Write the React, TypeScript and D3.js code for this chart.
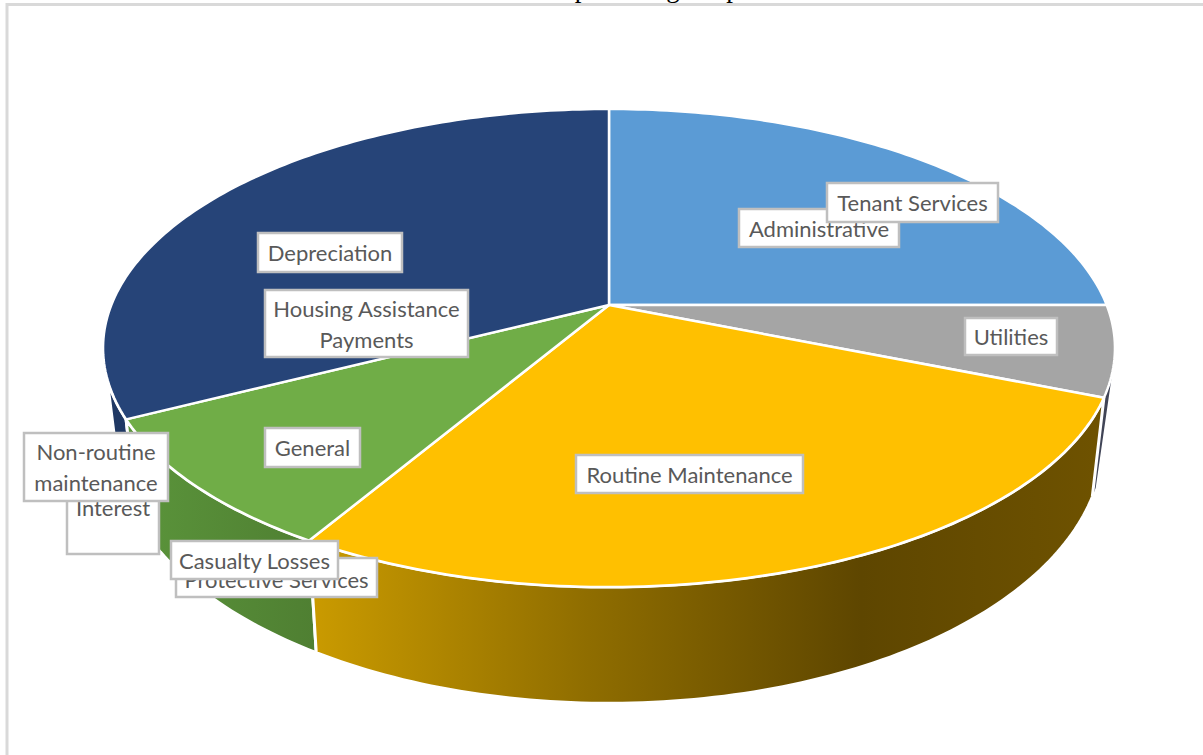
import React from "react";
import * as d3 from "d3";

// Share of operating expense per category, in percent, in pie order.
const categories = [
  "Administrative",
  "Tenant Services",
  "Utilities",
  "Routine Maintenance",
  "Protective Services",
  "General",
  "Casualty Losses",
  "Interest",
  "Non-routine maintenance",
  "Housing Assistance Payments",
  "Depreciation",
];
const shares = [25, 0, 6.1, 27.4, 0, 9, 0, 0, 0, 0, 32.5];
const sliceColors = [
  "#5B9BD5", "#ED7D31", "#A5A5A5", "#FFC000", "#4472C4", "#70AD47",
  "#264478", "#9E480E", "#636363", "#997300", "#264478",
];
const wallColors: Record<string, string> = {
  Utilities: "#404456",
  "Routine Maintenance": "url(#wallGold)",
  General: "url(#wallGreen)",
  Depreciation: "#1F3864",
};
// Clockwise angle, in degrees, where each wall's visible part starts at the far end.
const wallFarLimit: Record<string, number> = { Utilities: 106, Depreciation: 260 };

const titleText = "Total percentage in pie";

// Label boxes, painted in list order so later boxes overlap earlier ones.
const labelBoxes = [
  { lines: ["Depreciation"], x: 258, y: 233, w: 144, h: 39 },
  { lines: ["Housing Assistance", "Payments"], x: 265, y: 290, w: 203, h: 67 },
  { lines: ["Administrative"], x: 739, y: 209, w: 160, h: 38 },
  { lines: ["Tenant Services"], x: 827, y: 183, w: 171, h: 39 },
  { lines: ["Utilities"], x: 965, y: 318, w: 92, h: 37 },
  { lines: ["Routine Maintenance"], x: 576, y: 455, w: 227, h: 38 },
  { lines: ["General"], x: 265, y: 428, w: 95, h: 39 },
  { lines: ["Interest"], x: 67, y: 487, w: 92, h: 67, textY: 507 },
  { lines: ["Non-routine", "maintenance"], x: 24, y: 433, w: 144, h: 68 },
  { lines: ["Protective Services"], x: 176, y: 558, w: 201, h: 39, textY: 579 },
  { lines: ["Casualty Losses"], x: 171, y: 541, w: 167, h: 38 },
];

const WIDTH = 1203;
const HEIGHT = 755;
const LABEL_FONT = "Lato, 'Noto Sans', sans-serif";

// Perspective projection of the unit disc: a point further forward is drawn larger.
const PERSPECTIVE = -0.18;
const project = (cx: number, cy: number, ax: number, ay: number) => (deg: number): [number, number] => {
  const a = (deg * Math.PI) / 180;
  const ux = Math.sin(a);
  const uy = -Math.cos(a);
  const w = 1 + PERSPECTIVE * uy;
  return [cx + (ax * ux) / w, cy + (ay * uy) / w];
};
const topRim = project(609, 305, 497.7, 231.3);
const bottomRim = project(609, 396, 486, 252);

const sweep = (from: number, to: number) => {
  const n = Math.max(2, Math.ceil(Math.abs(to - from)));
  return d3.range(n + 1).map((i) => from + ((to - from) * i) / n);
};
const line = d3.line<[number, number]>();

export default function App() {
  const pie = d3.pie<number>().sort(null).startAngle(0).endAngle(2 * Math.PI);
  const slices = pie(shares).map((s, i) => ({
    name: categories[i],
    color: sliceColors[i],
    from: (s.startAngle * 180) / Math.PI,
    to: (s.endAngle * 180) / Math.PI,
    value: s.value,
  }));
  const drawn = slices.filter((s) => s.value > 0);

  // Walls facing the viewer: back-most first, the large front wall last.
  const wallOrder = ["Utilities", "Depreciation", "General", "Routine Maintenance"];
  const walls = wallOrder.map((name) => {
    const s = drawn.find((d) => d.name === name)!;
    let pts: [number, number][];
    if (name === "Utilities") {
      // Only a thin sliver of this wall shows beside the front wall.
      pts = [...sweep(wallFarLimit[name], s.to).map(topRim), bottomRim(s.to), bottomRim(s.to - 2)];
    } else {
      const end = wallFarLimit[name] ?? s.to;
      pts = [...sweep(s.from, end).map(topRim), ...sweep(end, s.from).map(bottomRim)];
    }
    return { name, d: line(pts)! + "Z", fill: wallColors[name] };
  });

  return (
    <svg
      width={WIDTH}
      height={HEIGHT}
      viewBox={`0 0 ${WIDTH} ${HEIGHT}`}
      style={{ position: "absolute", left: 0, top: 0, background: "#fff" }}
    >
      <defs>
        <linearGradient id="wallGold" gradientUnits="userSpaceOnUse" x1={316} x2={1095} y1={0} y2={0}>
          <stop offset="0" stopColor="#C99A00" />
          <stop offset="0.35" stopColor="#8F6D00" />
          <stop offset="0.7" stopColor="#5E4600" />
          <stop offset="1" stopColor="#6E5200" />
        </linearGradient>
        <linearGradient id="wallGreen" gradientUnits="userSpaceOnUse" x1={125} x2={316} y1={0} y2={0}>
          <stop offset="0" stopColor="#5B953B" />
          <stop offset="1" stopColor="#4F7F32" />
        </linearGradient>
      </defs>

      <text x={513} y={-3} fontFamily="'Liberation Serif', serif" fontSize={27} fill="#000">
        {titleText}
      </text>
      <rect x={7} y={4.5} width={1240} height={800} fill="none" stroke="#D9D9D9" strokeWidth={3} />

      {walls.map((w) => (
        <path
          key={w.name}
          d={w.d}
          fill={w.fill}
          stroke="#fff"
          strokeWidth={w.name === "Utilities" ? 0 : 3}
          strokeLinejoin="round"
        />
      ))}

      {drawn.map((s) => {
        const pts: [number, number][] = [[609, 305], ...sweep(s.from, s.to).map(topRim)];
        return (
          <path key={s.name} d={line(pts)! + "Z"} fill={s.color} stroke="#fff" strokeWidth={2.5} strokeLinejoin="round" />
        );
      })}

      {labelBoxes.map((b) => {
        const mid = b.textY ?? b.y + b.h / 2;
        return (
          <g key={b.lines.join(" ")}>
            <rect x={b.x} y={b.y} width={b.w} height={b.h} fill="#fff" stroke="#BFBFBF" strokeWidth={2.5} />
            {b.lines.map((t, i) => (
              <text
                key={t}
                x={b.x + b.w / 2}
                y={mid + (i - (b.lines.length - 1) / 2) * 31}
                textAnchor="middle"
                dominantBaseline="central"
                fontFamily={LABEL_FONT}
                fontSize={22}
                fill="#595959"
              >
                {t}
              </text>
            ))}
          </g>
        );
      })}
    </svg>
  );
}
